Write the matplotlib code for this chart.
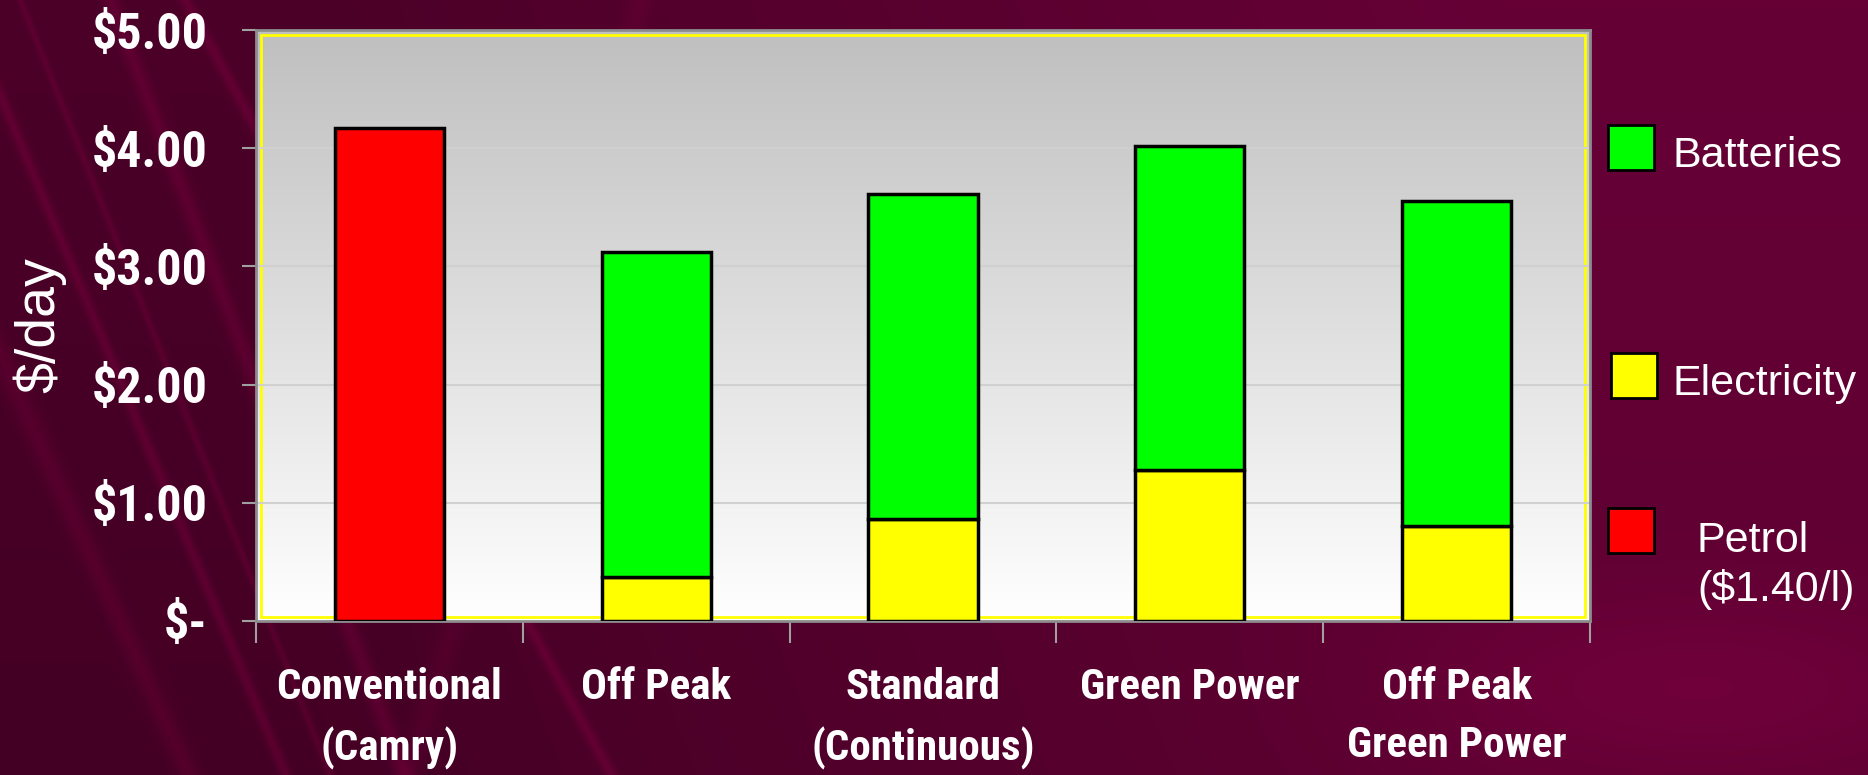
import numpy as np
import matplotlib
matplotlib.use('Agg')
import matplotlib.pyplot as plt
from matplotlib import font_manager
from matplotlib.patches import Rectangle

categories = ['Conventional\n(Camry)', 'Off Peak', 'Standard\n(Continuous)',
              'Green Power', 'Off Peak\nGreen Power']
petrol = [4.17, 0, 0, 0, 0]
electricity = [0, 0.37, 0.86, 1.28, 0.80]
batteries = [0, 2.75, 2.75, 2.74, 2.75]
yticks = [0, 1, 2, 3, 4, 5]
ytick_labels = ['$-', '$1.00', '$2.00', '$3.00', '$4.00', '$5.00']
legend_labels = ['Batteries', 'Electricity', 'Petrol\n($1.40/l)']

W, H = 1868, 775
names = {f.name for f in font_manager.fontManager.ttflist}
narrow = None
for cand in ['Liberation Sans Narrow', 'Roboto Condensed', 'Open Sans Condensed',
             'Noto Sans Condensed', 'DejaVu Sans Condensed']:
    if cand in names:
        narrow = cand
        break
if narrow is None:
    narrow = 'Liberation Sans'
    ysize, xsize = 34, 28
else:
    ysize, xsize = 36, 31
plt.rcParams['font.family'] = ['Liberation Sans', 'DejaVu Sans']

fig = plt.figure(figsize=(W / 100, H / 100), dpi=100)

# maroon background with soft diagonal streaks
yy, xx = np.mgrid[0:H, 0:W].astype(float)
dark = np.array([0x44, 0x00, 0x24]) / 255
light = np.array([0x66, 0x00, 0x36]) / 255
t = np.clip((xx - 300) / 1200, 0, 1) * 0.8 + 0.2 * np.clip(1 - yy / H, 0, 1)
img = dark[None, None, :] + (light - dark)[None, None, :] * t[..., None]
streaks = [(-40, 0.42, 6, 0.09), (20, 0.40, 4, 0.07), (110, 0.38, 9, 0.08),
           (185, 0.55, 7, 0.09), (-160, 0.45, 12, 0.06), (640, -0.3, 12, 0.04)]
glow = np.zeros((H, W))
for x0, s, w, a in streaks:
    d = xx - (x0 + s * yy)
    glow += a * np.exp(-(d / w) ** 2)
glow += 0.06 * np.exp(-(((xx - 1700) / 260) ** 2 + ((yy - 690) / 90) ** 2))
img[..., 0] += glow
img[..., 2] += glow * 0.45
bg = fig.add_axes([0, 0, 1, 1], zorder=-5)
bg.imshow(np.clip(img, 0, 1), aspect='auto', extent=(0, 1, 0, 1))
bg.axis('off')

ax = fig.add_axes([256 / W, 1 - 621 / H, (1590 - 256) / W, (621 - 30) / H])
x = np.arange(len(categories))

# grey (top) to white (bottom) gradient in the plotting area
grad = np.linspace(0.75, 1.0, 256)[:, None]
ax.imshow(np.dstack([grad, grad, grad]), aspect='auto', extent=(-0.5, 4.5, 0, 5),
          zorder=0)
ax.add_patch(Rectangle((0.004, 0.006), 0.992, 0.986, transform=ax.transAxes,
                       fill=False, edgecolor='#ffff00', linewidth=2, zorder=1))
for v in yticks[1:-1]:
    ax.axhline(v, color='#d0d0d0', linewidth=1.5, zorder=1)

bw = 0.41
kw = dict(width=bw, edgecolor='black', linewidth=2.5, zorder=3)
ax.bar(x, petrol, color='#ff0000', **kw)
ax.bar(x[1:], electricity[1:], color='#ffff00', **kw)
ax.bar(x[1:], batteries[1:], bottom=electricity[1:], color='#00ff00', **kw)

ax.set_xlim(-0.5, 4.5)
ax.set_ylim(0, 5)
for sp in ax.spines.values():
    sp.set_color('#8c8c8c')
    sp.set_linewidth(2)

ax.set_yticks(yticks)
ax.set_yticklabels(ytick_labels, fontfamily=narrow, fontweight='bold',
                   fontsize=ysize, color='white')
ax.tick_params(axis='y', length=10, width=1.5, color='#a0a0a0', pad=25)

ax.set_xticks(np.arange(-0.5, 5, 1))
ax.set_xticklabels([])
ax.tick_params(axis='x', which='major', length=16, width=1.5, color='#a0a0a0')
ax.set_xticks(x, minor=True)
ax.set_xticklabels(categories, minor=True, fontfamily=narrow, fontweight='bold',
                   fontsize=xsize, color='white', linespacing=1.55)
ax.tick_params(axis='x', which='minor', length=0, pad=33)

fig.text(40 / W, 1 - 325 / H, '$/day', rotation=90, fontsize=40, color='white',
         ha='center', va='center')

# legend
leg_colors = ['#00ff00', '#ffff00', '#ff0000']
leg_box = [(1608, 125), (1611, 353), (1608, 508)]
leg_text = [(1672, 156), (1672, 384), (1697, 565)]
for c, (bx, by), (tx, ty), lab in zip(leg_colors, leg_box, leg_text, legend_labels):
    fig.patches.append(Rectangle((bx / W, 1 - (by + 45) / H), 46 / W, 45 / H,
                                 transform=fig.transFigure, facecolor=c,
                                 edgecolor='black', linewidth=2))
    fig.text(tx / W, 1 - ty / H, lab, fontsize=31, color='white', ha='left',
             va='center', linespacing=1.25)

fig.savefig('out.png', dpi=100)
